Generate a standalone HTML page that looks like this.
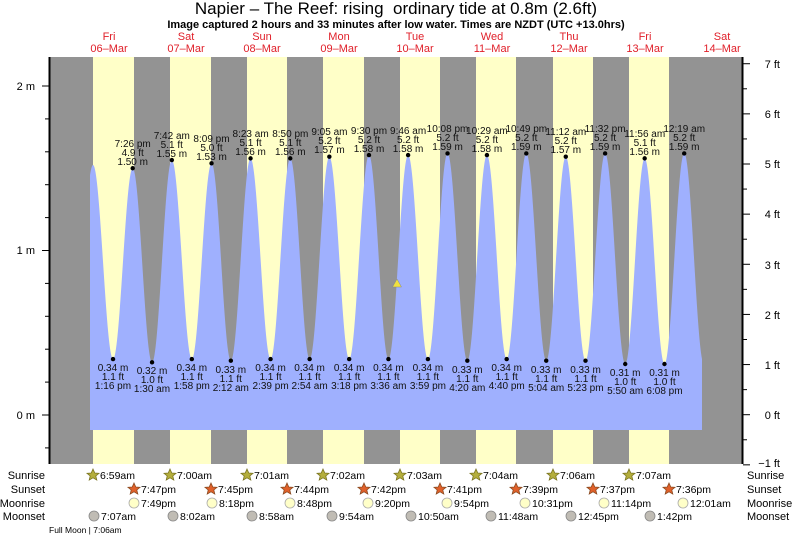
<!DOCTYPE html>
<html><head><meta charset="utf-8"><style>
html,body{margin:0;padding:0;background:#fff;}
svg{display:block;font-family:"Liberation Sans",sans-serif;}
</style></head><body>
<svg id="s" width="793" height="537" viewBox="0 0 793 537" xmlns="http://www.w3.org/2000/svg">
<text x="396" y="14" font-size="17" text-anchor="middle">Napier – The Reef: rising &#160;ordinary tide at 0.8m (2.6ft)</text>
<text x="396" y="28" font-size="11" font-weight="bold" text-anchor="middle">Image captured 2 hours and 33 minutes after low water. Times are NZDT (UTC +13.0hrs)</text>
<g font-size="11" fill="#e0202a" text-anchor="middle">
<text x="109" y="40">Fri</text><text x="109" y="52">06–Mar</text>
<text x="186" y="40">Sat</text><text x="186" y="52">07–Mar</text>
<text x="262" y="40">Sun</text><text x="262" y="52">08–Mar</text>
<text x="339" y="40">Mon</text><text x="339" y="52">09–Mar</text>
<text x="415" y="40">Tue</text><text x="415" y="52">10–Mar</text>
<text x="492" y="40">Wed</text><text x="492" y="52">11–Mar</text>
<text x="569" y="40">Thu</text><text x="569" y="52">12–Mar</text>
<text x="645" y="40">Fri</text><text x="645" y="52">13–Mar</text>
<text x="722" y="40">Sat</text><text x="722" y="52">14–Mar</text>
</g>
<rect x="50" y="57" width="693" height="407" fill="#939393"/>
<g fill="#ffffc8">
<rect x="93" y="57" width="41" height="407"/><rect x="170" y="57" width="41" height="407"/>
<rect x="247" y="57" width="40" height="407"/><rect x="323" y="57" width="41" height="407"/>
<rect x="400" y="57" width="40" height="407"/><rect x="476" y="57" width="40" height="407"/>
<rect x="553" y="57" width="40" height="407"/><rect x="629" y="57" width="40" height="407"/>
</g>
<path id="tide" fill="#9fb0fe" d=""/>
<polygon points="397,279 392.5,287 401.5,287" fill="#f0e040" stroke="#888" stroke-width="0.5"/>
<line x1="49.5" y1="57" x2="49.5" y2="464" stroke="#000" stroke-width="2"/>
<line x1="742.5" y1="57" x2="742.5" y2="464" stroke="#000" stroke-width="2"/>
<g stroke="#000" stroke-width="1" id="ticks"></g>
<g font-size="11" text-anchor="end">
<text x="35" y="90">2 m</text><text x="35" y="254">1 m</text><text x="35" y="419">0 m</text>
</g>
<g font-size="11" text-anchor="end">
<text x="780" y="68">7 ft</text><text x="780" y="118">6 ft</text><text x="780" y="168">5 ft</text>
<text x="780" y="218">4 ft</text><text x="780" y="269">3 ft</text><text x="780" y="319">2 ft</text>
<text x="780" y="369">1 ft</text><text x="780" y="419">0 ft</text><text x="780" y="467">−1 ft</text>
</g>
<g id="dots" fill="#000"></g>
<g font-size="10" text-anchor="middle" fill="#111">
<text x="132.7" y="147">7:26 pm</text><text x="132.7" y="156">4.9 ft</text><text x="132.7" y="165">1.50 m</text>
<text x="171.8" y="139">7:42 am</text><text x="171.8" y="148">5.1 ft</text><text x="171.8" y="157">1.55 m</text>
<text x="211.5" y="142">8:09 pm</text><text x="211.5" y="151">5.0 ft</text><text x="211.5" y="160">1.53 m</text>
<text x="250.6" y="137">8:23 am</text><text x="250.6" y="146">5.1 ft</text><text x="250.6" y="155">1.56 m</text>
<text x="290.3" y="137">8:50 pm</text><text x="290.3" y="146">5.1 ft</text><text x="290.3" y="155">1.56 m</text>
<text x="329.4" y="135">9:05 am</text><text x="329.4" y="144">5.2 ft</text><text x="329.4" y="153">1.57 m</text>
<text x="369" y="134">9:30 pm</text><text x="369" y="143">5.2 ft</text><text x="369" y="152">1.58 m</text>
<text x="408.1" y="134">9:46 am</text><text x="408.1" y="143">5.2 ft</text><text x="408.1" y="152">1.58 m</text>
<text x="447.5" y="132">10:08 pm</text><text x="447.5" y="141">5.2 ft</text><text x="447.5" y="150">1.59 m</text>
<text x="486.9" y="134">10:29 am</text><text x="486.9" y="143">5.2 ft</text><text x="486.9" y="152">1.58 m</text>
<text x="526.3" y="132">10:49 pm</text><text x="526.3" y="141">5.2 ft</text><text x="526.3" y="150">1.59 m</text>
<text x="565.8" y="135">11:12 am</text><text x="565.8" y="144">5.2 ft</text><text x="565.8" y="153">1.57 m</text>
<text x="605.1" y="132">11:32 pm</text><text x="605.1" y="141">5.2 ft</text><text x="605.1" y="150">1.59 m</text>
<text x="644.7" y="137">11:56 am</text><text x="644.7" y="146">5.1 ft</text><text x="644.7" y="155">1.56 m</text>
<text x="684.2" y="132">12:19 am</text><text x="684.2" y="141">5.2 ft</text><text x="684.2" y="150">1.59 m</text>
<text x="113" y="371">0.34 m</text><text x="113" y="380">1.1 ft</text><text x="113" y="389">1:16 pm</text>
<text x="152" y="374">0.32 m</text><text x="152" y="383">1.0 ft</text><text x="152" y="392">1:30 am</text>
<text x="191.8" y="371">0.34 m</text><text x="191.8" y="380">1.1 ft</text><text x="191.8" y="389">1:58 pm</text>
<text x="230.8" y="373">0.33 m</text><text x="230.8" y="382">1.1 ft</text><text x="230.8" y="391">2:12 am</text>
<text x="270.6" y="371">0.34 m</text><text x="270.6" y="380">1.1 ft</text><text x="270.6" y="389">2:39 pm</text>
<text x="309.6" y="371">0.34 m</text><text x="309.6" y="380">1.1 ft</text><text x="309.6" y="389">2:54 am</text>
<text x="349.2" y="371">0.34 m</text><text x="349.2" y="380">1.1 ft</text><text x="349.2" y="389">3:18 pm</text>
<text x="388.4" y="371">0.34 m</text><text x="388.4" y="380">1.1 ft</text><text x="388.4" y="389">3:36 am</text>
<text x="427.9" y="371">0.34 m</text><text x="427.9" y="380">1.1 ft</text><text x="427.9" y="389">3:59 pm</text>
<text x="467.3" y="373">0.33 m</text><text x="467.3" y="382">1.1 ft</text><text x="467.3" y="391">4:20 am</text>
<text x="506.7" y="371">0.34 m</text><text x="506.7" y="380">1.1 ft</text><text x="506.7" y="389">4:40 pm</text>
<text x="546.2" y="373">0.33 m</text><text x="546.2" y="382">1.1 ft</text><text x="546.2" y="391">5:04 am</text>
<text x="585.5" y="373">0.33 m</text><text x="585.5" y="382">1.1 ft</text><text x="585.5" y="391">5:23 pm</text>
<text x="625.2" y="376">0.31 m</text><text x="625.2" y="385">1.0 ft</text><text x="625.2" y="394">5:50 am</text>
<text x="664.5" y="376">0.31 m</text><text x="664.5" y="385">1.0 ft</text><text x="664.5" y="394">6:08 pm</text>
</g>
<g font-size="11" text-anchor="end">
<text x="45" y="479">Sunrise</text><text x="45" y="493">Sunset</text><text x="45" y="507">Moonrise</text><text x="45" y="520">Moonset</text>
</g>
<g font-size="11">
<text x="747" y="479">Sunrise</text><text x="747" y="493">Sunset</text><text x="747" y="507">Moonrise</text><text x="747" y="520">Moonset</text>
</g>
<text x="49" y="533" font-size="8.5">Full Moon | 7:06am</text>
<g stroke-width="0.8">
<g fill="#b4ae3c" stroke="#7a7420">
<polygon points="93,469 94.8,473 99,473.3 95.8,476 96.8,480 93,477.8 89.2,480 90.2,476 87,473.3 91.2,473"/>
<polygon points="170,469 171.8,473 176,473.3 172.8,476 173.8,480 170,477.8 166.2,480 167.2,476 164,473.3 168.2,473"/>
<polygon points="247,469 248.8,473 253,473.3 249.8,476 250.8,480 247,477.8 243.2,480 244.2,476 241,473.3 245.2,473"/>
<polygon points="323,469 324.8,473 329,473.3 325.8,476 326.8,480 323,477.8 319.2,480 320.2,476 317,473.3 321.2,473"/>
<polygon points="400,469 401.8,473 406,473.3 402.8,476 403.8,480 400,477.8 396.2,480 397.2,476 394,473.3 398.2,473"/>
<polygon points="476,469 477.8,473 482,473.3 478.8,476 479.8,480 476,477.8 472.2,480 473.2,476 470,473.3 474.2,473"/>
<polygon points="553,469 554.8,473 559,473.3 555.8,476 556.8,480 553,477.8 549.2,480 550.2,476 547,473.3 551.2,473"/>
<polygon points="629,469 630.8,473 635,473.3 631.8,476 632.8,480 629,477.8 625.2,480 626.2,476 623,473.3 627.2,473"/>
</g>
<g fill="#e0602a" stroke="#8a4a20">
<polygon points="134,483 135.8,487 140,487.3 136.8,490 137.8,494 134,491.8 130.2,494 131.2,490 128,487.3 132.2,487"/>
<polygon points="211,483 212.8,487 217,487.3 213.8,490 214.8,494 211,491.8 207.2,494 208.2,490 205,487.3 209.2,487"/>
<polygon points="287,483 288.8,487 293,487.3 289.8,490 290.8,494 287,491.8 283.2,494 284.2,490 281,487.3 285.2,487"/>
<polygon points="364,483 365.8,487 370,487.3 366.8,490 367.8,494 364,491.8 360.2,494 361.2,490 358,487.3 362.2,487"/>
<polygon points="440,483 441.8,487 446,487.3 442.8,490 443.8,494 440,491.8 436.2,494 437.2,490 434,487.3 438.2,487"/>
<polygon points="516,483 517.8,487 522,487.3 518.8,490 519.8,494 516,491.8 512.2,494 513.2,490 510,487.3 514.2,487"/>
<polygon points="593,483 594.8,487 599,487.3 595.8,490 596.8,494 593,491.8 589.2,494 590.2,490 587,487.3 591.2,487"/>
<polygon points="669,483 670.8,487 675,487.3 671.8,490 672.8,494 669,491.8 665.2,494 666.2,490 663,487.3 667.2,487"/>
</g>
<g fill="#ffffc8" stroke="#aaa">
<circle cx="134" cy="503" r="5"/><circle cx="212" cy="503" r="5"/><circle cx="290" cy="503" r="5"/><circle cx="368" cy="503" r="5"/>
<circle cx="447" cy="503" r="5"/><circle cx="525" cy="503" r="5"/><circle cx="604" cy="503" r="5"/><circle cx="683" cy="503" r="5"/>
</g>
<g fill="#c0bcb4" stroke="#888">
<circle cx="94" cy="516" r="5"/><circle cx="173" cy="516" r="5"/><circle cx="252" cy="516" r="5"/><circle cx="332" cy="516" r="5"/>
<circle cx="411" cy="516" r="5"/><circle cx="491" cy="516" r="5"/><circle cx="571" cy="516" r="5"/><circle cx="650" cy="516" r="5"/>
</g>
</g>
<g font-size="10.5">
<text x="100" y="479">6:59am</text><text x="177" y="479">7:00am</text><text x="254" y="479">7:01am</text><text x="330" y="479">7:02am</text>
<text x="407" y="479">7:03am</text><text x="483" y="479">7:04am</text><text x="560" y="479">7:06am</text><text x="636" y="479">7:07am</text>
<text x="141" y="493">7:47pm</text><text x="218" y="493">7:45pm</text><text x="294" y="493">7:44pm</text><text x="371" y="493">7:42pm</text>
<text x="447" y="493">7:41pm</text><text x="523" y="493">7:39pm</text><text x="600" y="493">7:37pm</text><text x="676" y="493">7:36pm</text>
<text x="141" y="507">7:49pm</text><text x="219" y="507">8:18pm</text><text x="297" y="507">8:48pm</text><text x="375" y="507">9:20pm</text>
<text x="454" y="507">9:54pm</text><text x="532" y="507">10:31pm</text><text x="611" y="507">11:14pm</text><text x="690" y="507">12:01am</text>
<text x="101" y="520">7:07am</text><text x="180" y="520">8:02am</text><text x="259" y="520">8:58am</text><text x="339" y="520">9:54am</text>
<text x="418" y="520">10:50am</text><text x="498" y="520">11:48am</text><text x="578" y="520">12:45pm</text><text x="657" y="520">1:42pm</text>
</g>
</svg>
<script>
(function(){
var NS="http://www.w3.org/2000/svg";
var ex=[[1,0.5],[7.0,1.52],[13.27,.34],[19.43,1.50],[25.5,.32],[31.7,1.55],[37.97,.34],[44.15,1.53],[50.2,.33],[56.38,1.56],[62.65,.34],[68.83,1.56],[74.9,.34],[81.08,1.57],[87.3,.34],[93.5,1.58],[99.6,.34],[105.77,1.58],[111.98,.34],[118.13,1.59],[124.33,.33],[130.48,1.58],[136.67,.34],[142.82,1.59],[149.07,.33],[155.2,1.57],[161.38,.33],[167.53,1.59],[173.83,.31],[179.93,1.56],[186.13,.31],[192.32,1.59],[198.5,.31],[204,1.5]];
function X(h){return 70.7+3.19*h;}function Y(m){return 415-164.5*m;}
function val(h){for(var i=0;i<ex.length-1;i++){var a=ex[i],b=ex[i+1];if(h>=a[0]&&h<=b[0]){var t=(h-a[0])/(b[0]-a[0]);return a[1]+(b[1]-a[1])*(1-Math.cos(Math.PI*t))/2;}}return .5;}
var d="M90,430";for(var x=90;x<=702;x+=0.5){var h=(x-70.7)/3.19;d+=" L"+x+","+Y(val(h)).toFixed(2);}d+=" L702,430 Z";
document.getElementById('tide').setAttribute('d',d);
var dots=document.getElementById('dots');
for(var i=2;i<ex.length-2;i++){var c=document.createElementNS(NS,'circle');c.setAttribute('cx',X(ex[i][0]));c.setAttribute('cy',Y(ex[i][1]));c.setAttribute('r',2.2);dots.appendChild(c);}
var tk=document.getElementById('ticks');
function ln(x1,y1,x2,y2){var l=document.createElementNS(NS,'line');l.setAttribute('x1',x1);l.setAttribute('y1',y1);l.setAttribute('x2',x2);l.setAttribute('y2',y2);tk.appendChild(l);}
for(var k=-2;k<=10;k++){var y=415-164.5*k*0.2;if(y<57||y>464)continue;ln(k%5==0?42:45,y,49,y);}
for(var k=-2;k<=14;k++){var y=414.7-50.14*k*0.5;if(y<57||y>465)continue;ln(743,y,k%2==0?750:747,y);}
})();
</script>
</body></html>
